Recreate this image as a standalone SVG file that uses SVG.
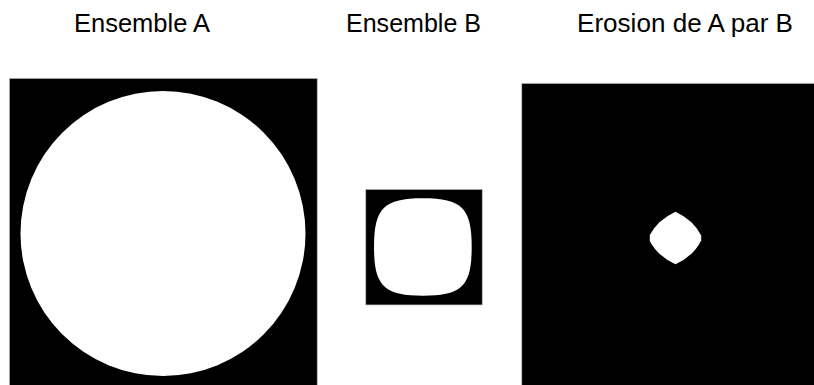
<svg xmlns="http://www.w3.org/2000/svg" width="814" height="385" viewBox="0 0 814 385">
<style>
.t{font-family:"Liberation Sans",Arial,sans-serif;font-size:26px;fill:#000;text-anchor:start}
.blk{fill:#000;stroke:#c8c8c8;stroke-width:0.8}
.wht{fill:#fff}
</style>
<rect width="814" height="385" fill="#fff"/>
<g id="ensembleA">
<text class="t" x="74" y="31.5" textLength="136" lengthAdjust="spacingAndGlyphs">Ensemble A</text>
<rect class="blk" x="9.3" y="78.3" width="308" height="310"/>
<circle class="wht" cx="163" cy="233.5" r="142.5"/>
</g>
<g id="ensembleB">
<text class="t" x="346" y="31.5" textLength="135" lengthAdjust="spacingAndGlyphs">Ensemble B</text>
<rect class="blk" x="365.7" y="189.3" width="116.6" height="115.7"/>
<path class="wht" d="M471.7,247 C471.7,286 461.9,295.7 422.9,295.7 C383.9,295.7 374,286 374,247 C374,208 383.9,198.3 422.9,198.3 C461.9,198.3 471.7,208 471.7,247 Z"/>
</g>
<g id="erosion">
<text class="t" x="577" y="31.5" textLength="216" lengthAdjust="spacingAndGlyphs">Erosion de A par B</text>
<rect class="blk" x="521.7" y="83.3" width="300" height="310"/>
<path class="wht" d="M675.5,211.7 Q693.5,220 701.2,235.5 L701.2,240.5 Q693.5,256 675.5,264.3 Q657.5,256 649.8,241 L649.8,235 Q657.5,220 675.5,211.7 Z"/>
</g>
<g id="connectors"/>
</svg>
